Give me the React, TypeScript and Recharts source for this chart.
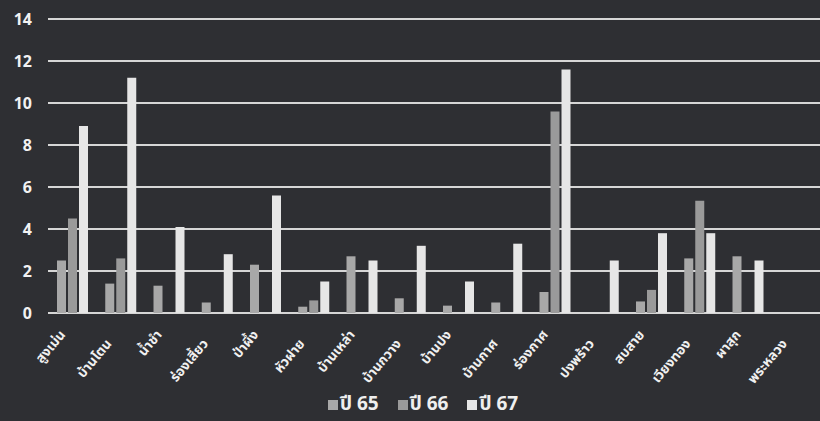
import React from "react";
import { Bar, BarChart, CartesianGrid, Legend, XAxis, YAxis } from "recharts";

const areas = [
  "สูงเม่น", "บ้านโตน", "น้ำชำ", "ร่องเสี้ยว", "ป่าผึ้ง", "หัวฝาย", "บ้านเหล่า", "บ้านกวาง",
  "บ้านปง", "บ้านกาศ", "ร่องกาศ", "ปงพร้าว", "สบสาย", "เวียงทอง", "ผาสุก", "พระหลวง",
];
const y65 = [2.5, 1.4, 1.3, 0.5, 2.3, 0.3, 2.7, 0.7, 0.35, 0.5, 1.0, 0, 0.55, 2.6, 2.7, 0];
const y66 = [4.5, 2.6, 0, 0, 0, 0.6, 0, 0, 0, 0, 9.6, 0, 1.1, 5.35, 0, 0];
const y67 = [8.9, 11.2, 4.1, 2.8, 5.6, 1.5, 2.5, 3.2, 1.5, 3.3, 11.6, 2.5, 3.8, 3.8, 2.5, 0];
const yTicks = [0, 2, 4, 6, 8, 10, 12, 14];

const series = [
  { key: "y65", name: "ปี 65", color: "#a8a8a8" },
  { key: "y66", name: "ปี 66", color: "#9a9a9a" },
  { key: "y67", name: "ปี 67", color: "#e6e6e6" },
];

const data = areas.map((area, i) => ({ area, y65: y65[i], y66: y66[i], y67: y67[i] }));

const font = "'Noto Sans Thai', 'Leelawadee UI', Tahoma, 'Noto Sans', sans-serif";

function AreaTick({ x, y, payload, index }: any) {
  const drop = index % 2 === 1 ? 9 : 0;
  return (
    <g transform={`translate(${x - 6 - (index % 2) * 2},${y + 14 + drop})`}>
      <text
        textAnchor="end"
        transform="rotate(-50)"
        fill="#f0f0f0"
        fontSize={13.5}
        fontWeight={700}
        fontFamily={font}>
        {payload.value}
      </text>
    </g>
  );
}

function LegendBox() {
  return (
    <div
      style={{
        display: "flex",
        justifyContent: "center",
        gap: 19,
        marginLeft: 26,
        paddingTop: 4,
        lineHeight: "20px",
        fontFamily: font,
        fontWeight: 700,
        fontSize: 19,
        color: "#efefef",
      }}>
      {series.map(s => (
        <span key={s.key} style={{ display: "flex", alignItems: "center", gap: 2 }}>
          <span style={{ width: 10, height: 10, background: s.color, display: "inline-block" }} />
          {s.name}
        </span>
      ))}
    </div>
  );
}

export default function App() {
  return (
    <div style={{ width: 820, height: 421, background: "#2e2f33", overflow: "hidden" }}>
      <style>{`body{margin:0}`}</style>
      <BarChart
        width={820}
        height={421}
        data={data}
        margin={{ top: 19, right: 0, bottom: 0, left: 0 }}
        barGap={2}
        barSize={9}>
        <CartesianGrid horizontal vertical={false} stroke="#d6d6d6" strokeWidth={2} />
        <XAxis
          dataKey="area"
          interval={0}
          height={78}
          axisLine={false}
          tickLine={false}
          tick={<AreaTick />} />
        <YAxis
          width={48}
          domain={[0, 14]}
          ticks={yTicks}
          axisLine={false}
          tickLine={false}
          tickSize={6}
          tickMargin={10}
          tick={{ fill: "#f2f2f2", fontSize: 16, fontWeight: 700, fontFamily: font }} />
        <Legend verticalAlign="bottom" height={30} content={<LegendBox />} />
        {series.map(s => (
          <Bar key={s.key} dataKey={s.key} name={s.name} fill={s.color} isAnimationActive={false} />
        ))}
      </BarChart>
    </div>
  );
}
